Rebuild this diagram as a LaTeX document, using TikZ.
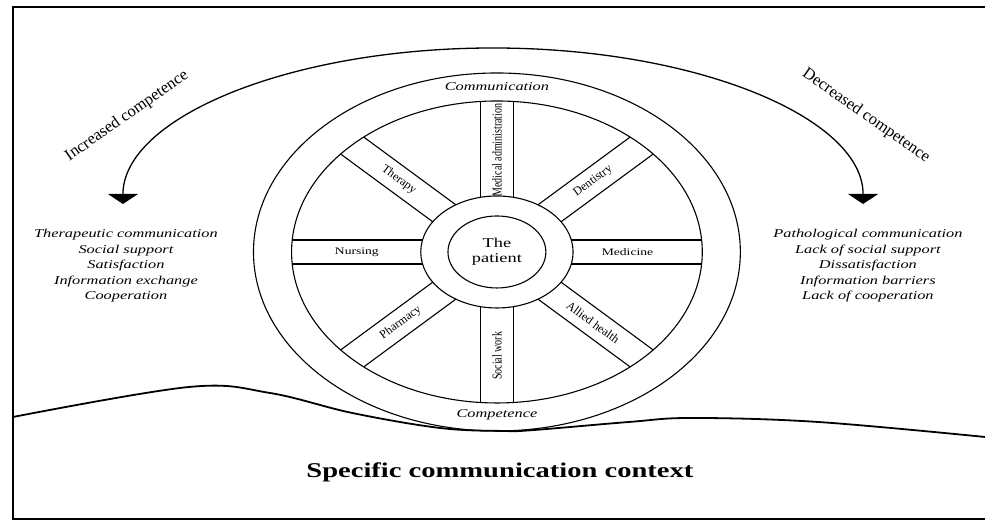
\documentclass[tikz,border=0pt]{standalone}
\usepackage{fontspec}
\setmainfont{Liberation Serif}
\usetikzlibrary{arrows.meta}

\begin{document}
\begin{tikzpicture}[x=1pt,y=1pt,xscale=1.36]
        \tikzset{every node/.style={inner sep=1pt},
            stretched/.style={transform shape},
            rim/.style={line width=1.1pt},
            spoke label/.style={stretched,font=\fontsize{10}{12}\selectfont},
            slant label/.style={font=\fontsize{12}{14}\selectfont},
            ring label/.style={stretched,font=\fontsize{12}{14}\selectfont\itshape},
            outcome/.style={stretched,align=center,font=\fontsize{12}{15.5}\selectfont\itshape},
            trend/.style={font=\fontsize{16.5}{18}\selectfont},
            comp arrow/.style={line width=1.3pt,
                {Triangle[width=30pt,length=10pt]}-{Triangle[width=30pt,length=10pt]}}}
        \useasboundingbox (0,0) rectangle (724.3,521);
        \draw[line width=1.3pt] (724.3,514) -- (9.6,514) -- (9.6,2) -- (724.3,2);
        % ground
        \draw[line width=1.8pt] plot[smooth,tension=0.6] coordinates {(9.6,104) (139,134)
            (198.5,128) (259,108) (323.5,93) (370,90) (393,91) (462.5,99) (509,103)
            (601.5,99) (724.3,84)};
        % wheel
        \begin{scope}[shift={(365.4,269)}]
            \draw[rim] (0,0) circle[radius=179];
            \draw[rim] (0,0) circle[radius=151];
            \draw[rim] (0,0) circle[radius=56];
            \node[stretched,draw,rim,circle,minimum size=72pt,inner sep=0pt,align=center,
                font=\fontsize{13.5}{15}\selectfont] (patient) {The\\patient};
            \foreach \a in {0,45,...,315}
                \draw[rim,rotate=\a] (54.7,12) -- (150.5,12) (54.7,-12) -- (150.5,-12);
            \node[ring label] (comm) at (90:165) {Communication};
            \node[ring label] (comp) at (270:163) {Competence};
            \node[spoke label] (medicine) at (0:96) {Medicine};
            \node[slant label,rotate=36.3] (dentistry) at (45:100) {Dentistry};
            \node[spoke label,rotate=90] (medadmin) at (90:102) {Medical administration};
            \node[slant label,rotate=-36.3] (therapy) at (135:102) {Therapy};
            \node[spoke label] (nursing) at (180:103) {Nursing};
            \node[slant label,rotate=36.3] (pharmacy) at (225:100) {Pharmacy};
            \node[spoke label,rotate=90] (socialwork) at (270:104) {Social work};
            \node[slant label,rotate=-36.3] (allied) at (315:100) {Allied health};
        \end{scope}
        % competence arc
        \coordinate (inc tip) at (90.4,317);
        \coordinate (arc top) at (362.5,473);
        \coordinate (dec tip) at (634.6,317);
        \draw[comp arrow] (inc tip) .. controls +(0,86) and +(-150,0) .. (arc top)
            .. controls +(150,0) and +(0,86) .. (dec tip);
        \node[trend,rotate=35] (inc) at (93.4,405) {Increased competence};
        \node[trend,rotate=-35] (dec) at (636.8,405) {Decreased competence};
        \node[outcome] (good) at (92.6,255) {Therapeutic communication\\Social support\\
            Satisfaction\\Information exchange\\Cooperation};
        \node[outcome] (bad) at (638.2,255) {Pathological communication\\Lack of social support\\
            Dissatisfaction\\Information barriers\\Lack of cooperation};
        \node[stretched,font=\fontsize{21}{24}\selectfont\bfseries] (context) at (367.6,49)
            {Specific communication context};
\end{tikzpicture}
\end{document}
